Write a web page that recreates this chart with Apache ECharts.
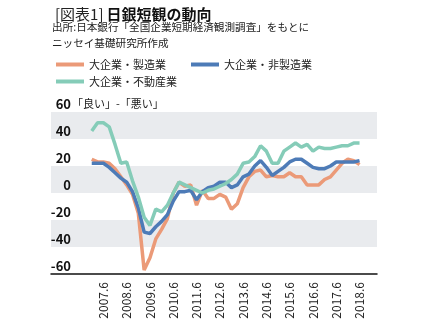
<!DOCTYPE html>
<html><head><meta charset="utf-8">
<script src="https://cdn.jsdelivr.net/npm/echarts@6/dist/echarts.min.js"></script>
<style>html,body{margin:0;padding:0;background:#fff}#c{width:433px;height:330px}</style>
</head><body><div id="c"></div>
<script>
const quarters = ["2006.12","2007.3","2007.6","2007.9","2007.12","2008.3","2008.6","2008.9","2008.12","2009.3","2009.6","2009.9","2009.12","2010.3","2010.6","2010.9","2010.12","2011.3","2011.6","2011.9","2011.12","2012.3","2012.6","2012.9","2012.12","2013.3","2013.6","2013.9","2013.12","2014.3","2014.6","2014.9","2014.12","2015.3","2015.6","2015.9","2015.12","2016.3","2016.6","2016.9","2016.12","2017.3","2017.6","2017.9","2017.12","2018.3","2018.6"];
const manufacturing = [25,23,23,22,18,12,6,-1,-15,-57,-48,-34,-27,-19,0,8,5,6,-9,2,-4,-4,-1,-3,-12,-8,4,12,16,17,12,13,12,12,15,12,12,6,6,6,10,12,17,22,25,24,21];
const nonManufacturing = [22,22,22,19,15,11,8,1,-11,-29,-30,-25,-21,-16,-6,1,1,2,-5,1,4,5,8,8,4,6,12,14,20,24,19,13,16,19,23,25,25,22,19,18,18,20,23,23,23,23,24];
const realEstate = [46,52,52,49,36,22,23,9,-3,-18,-24,-12,-14,-9,0,8,6,4,2,0,2,3,5,7,10,14,22,23,27,35,31,22,22,31,34,37,34,36,31,34,33,33,34,35,35,37,37];
const seriesNames = ["大企業・製造業","大企業・非製造業","大企業・不動産業"];
const yTicks = {min:-60, max:60, step:20};

const FONT = '"Noto Sans CJK JP", "Noto Sans", sans-serif';
const colors = ['#eb9a78', '#4d7bb7', '#85ccb8'];
const toPts = arr => arr.map((v,i)=>[i, v]);

const chart = echarts.init(document.getElementById('c'), null, {renderer:'canvas'});
const legendBase = {icon:'rect', itemWidth:28, itemHeight:4, itemGap:10,
  textStyle:{fontSize:11, color:'#222', fontFamily:FONT, padding:[0,0,0,0]}};
chart.setOption({
  animation:false,
  color: colors,
  title:{
    left:50, top:2,
    text:'{a|[図表1]}{b|日銀短観の動向}',
    textStyle:{rich:{
      a:{fontSize:15, fontFamily:FONT, color:'#222', fontWeight:'normal'},
      b:{fontSize:15, fontFamily:FONT, color:'#111', fontWeight:'bold', padding:[0,0,0,3]}
    }}
  },
  graphic:[
    {type:'text', left:52, top:22, style:{text:'出所:日本銀行「全国企業短期経済観測調査」をもとに', fontSize:10.6, fontFamily:FONT, fill:'#222'}},
    {type:'text', left:52, top:38, style:{text:'ニッセイ基礎研究所作成', fontSize:10.6, fontFamily:FONT, fill:'#222'}},
    {type:'text', left:72, top:98, style:{text:'「良い」-「悪い」', fontSize:11, fontFamily:FONT, fill:'#222'}}
  ],
  legend:[
    Object.assign({}, legendBase, {data:[seriesNames[0]], left:51, top:54}),
    Object.assign({}, legendBase, {data:[seriesNames[1]], left:186, top:54}),
    Object.assign({}, legendBase, {data:[seriesNames[2]], left:51, top:71})
  ],
  grid:{left:51, right:56, top:112, bottom:56},
  xAxis:{
    type:'value', min:-7, max:49, interval:1,
    axisLine:{show:true, onZero:false, lineStyle:{color:'#111', width:1.5}},
    axisTick:{show:false},
    splitLine:{show:false},
    axisLabel:{
      rotate:90, margin:8, fontSize:12, color:'#222', fontFamily:FONT,
      formatter: v => { const q = quarters[Math.round(v)]; return (q && q.endsWith('.6')) ? q : ''; }
    }
  },
  yAxis:{
    type:'value', min:yTicks.min, max:yTicks.max, interval:yTicks.step,
    axisLine:{show:false}, axisTick:{show:false}, splitLine:{show:false},
    splitArea:{show:true, areaStyle:{color:['rgba(255,255,255,0)','#e9ebee']}},
    axisLabel:{margin:-20, align:'right', verticalAlign:'bottom', padding:[0,0,1,0],
      fontSize:13, fontWeight:'bold', color:'#111', fontFamily:FONT}
  },
  series:[
    {name:seriesNames[0], type:'line', data:toPts(manufacturing), symbol:'none', lineStyle:{width:3.5, color:colors[0]}},
    {name:seriesNames[1], type:'line', data:toPts(nonManufacturing), symbol:'none', lineStyle:{width:3.5, color:colors[1]}},
    {name:seriesNames[2], type:'line', data:toPts(realEstate), symbol:'none', lineStyle:{width:3.5, color:colors[2]}}
  ]
});
</script></body></html>
